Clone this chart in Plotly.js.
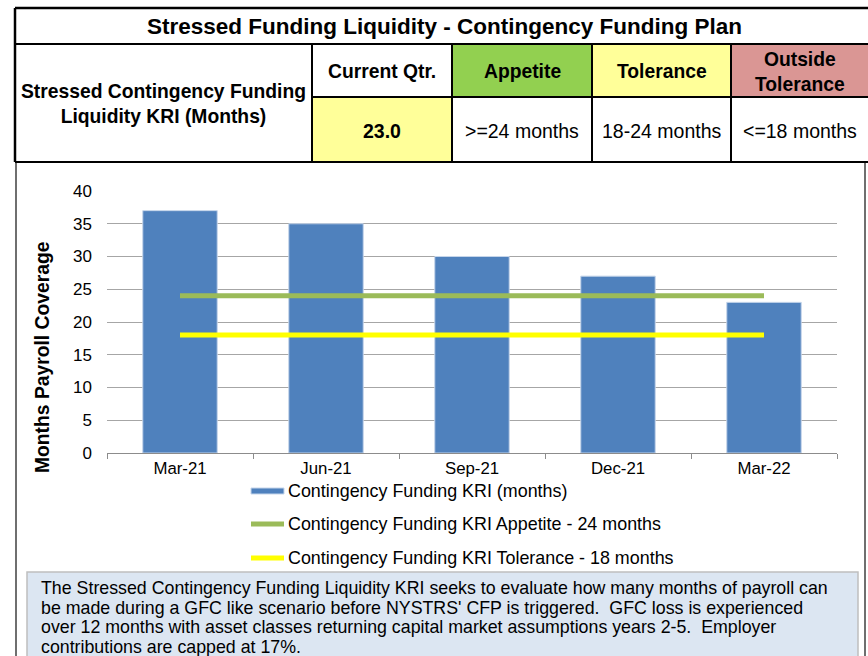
<!DOCTYPE html>
<html>
<head>
<meta charset="utf-8">
<script src="https://cdn.plot.ly/plotly-3.0.1.min.js"></script>
<style>
  body { margin: 0; background: white; }
  #graph { width: 868px; height: 656px; }
</style>
</head>
<body>
<div id="graph"></div>
<script>
// Data
const quarters = ['Mar-21', 'Jun-21', 'Sep-21', 'Dec-21', 'Mar-22'];
const kriMonths = [37, 35, 30, 27, 23];
const appetiteLevel = [24, 24, 24, 24, 24];
const toleranceLevel = [18, 18, 18, 18, 18];
const seriesNames = [
    'Contingency Funding KRI (months)',
    'Contingency Funding KRI Appetite - 24 months',
    'Contingency Funding KRI Tolerance - 18 months'
];
const tableTitle = 'Stressed Funding Liquidity - Contingency Funding Plan';
const kriLabel = 'Stressed Contingency Funding<br>Liquidity KRI (Months)';
const bandHeaders = ['Current Qtr.', 'Appetite', 'Tolerance', 'Outside<br>Tolerance'];
const bandValues = ['23.0', '>=24 months', '18-24 months', '<=18 months'];
const noteLines = [
    "The Stressed Contingency Funding Liquidity KRI seeks to evaluate how many months of payroll can",
    "be made during a GFC like scenario before NYSTRS' CFP is triggered.  GFC loss is experienced",
    "over 12 months with asset classes returning capital market assumptions years 2-5.  Employer",
    "contributions are capped at 17%."
];

const W = 868, H = 656;
const px = x => x / W;
const py = y => 1 - y / H;
const FONT = 'Liberation Sans, Arial, sans-serif';

const barColor = '#4f81bd';
const appetiteColor = '#9bbb59';
const toleranceColor = '#ffff00';

// Traces
const bar_trace = {
    type: 'bar',
    x: quarters,
    y: kriMonths,
    name: seriesNames[0],
    width: 0.51,
    marker: { color: barColor, line: { color: '#c5d5ea', width: 1 } },
    hoverinfo: 'x+y',
};

const appetite_trace = {
    type: 'scatter',
    mode: 'lines',
    x: quarters,
    y: appetiteLevel,
    name: seriesNames[1],
    line: { color: appetiteColor, width: 5 },
};

const tolerance_trace = {
    type: 'scatter',
    mode: 'lines',
    x: quarters,
    y: toleranceLevel,
    name: seriesNames[2],
    line: { color: toleranceColor, width: 5 },
};

// Table cells (x edges in px)
const colEdges = [312, 452, 592, 731, 870];
const headFills = ['white', '#92d050', '#ffff99', '#da9694'];
const valueFills = ['#ffff99', 'white', 'white', 'white'];

const shapes = [];
const annotations = [];

function rectPx(x0, y0, x1, y1, fill, lineColor, lineWidth) {
    shapes.push({
        type: 'rect', xref: 'paper', yref: 'paper',
        x0: px(x0), x1: px(x1), y0: py(y1), y1: py(y0),
        fillcolor: fill,
        line: { color: lineColor, width: lineWidth },
        layer: 'below',
    });
}
function linePx(x0, y0, x1, y1, color, width, layer) {
    shapes.push({
        type: 'line', xref: 'paper', yref: 'paper',
        x0: px(x0), x1: px(x1), y0: py(y0), y1: py(y1),
        line: { color: color, width: width },
        layer: layer || 'above',
    });
}
function textPx(x, y, text, size, bold, anchor) {
    annotations.push({
        xref: 'paper', yref: 'paper',
        x: px(x), y: py(y),
        text: bold ? '<b>' + text + '</b>' : text,
        showarrow: false,
        xanchor: anchor || 'center', yanchor: 'middle',
        align: anchor === 'left' ? 'left' : 'center',
        font: { family: FONT, size: size, color: '#000' },
    });
}

// chart box and note box
rectPx(16, 162, 865, 662, 'white', '#404040', 1.5);
rectPx(27, 572, 858, 662, '#dce6f2', '#bfbfbf', 1.5);

// table fills
for (let i = 0; i < 4; i++) {
    rectPx(colEdges[i], 44, colEdges[i + 1], 97, headFills[i], 'rgba(0,0,0,0)', 0);
    rectPx(colEdges[i], 97, colEdges[i + 1], 162, valueFills[i], 'rgba(0,0,0,0)', 0);
}

// table grid lines
linePx(15, 8, 870, 8, '#000', 2.5);
linePx(15, 44, 870, 44, '#000', 2);
linePx(312, 97, 870, 97, '#000', 2);
linePx(15, 162, 870, 162, '#000', 2);
linePx(15, 8, 15, 162, '#000', 2.5);
colEdges.slice(0, 4).forEach(x => linePx(x, 44, x, 162, '#000', 2));

// table text
textPx(444, 26, tableTitle, 22.5, true);
textPx(163, 104, kriLabel, 19.3, true);
for (let i = 0; i < 4; i++) {
    const cx = (colEdges[i] + Math.min(colEdges[i + 1], 868)) / 2;
    textPx(cx, 72, bandHeaders[i], 19.3, true);
    textPx(cx, 131, bandValues[i], 19.5, i === 0);
}

// y axis title
annotations.push({
    xref: 'paper', yref: 'paper', x: px(42), y: py(357),
    text: '<b>Months Payroll Coverage</b>', textangle: -90, showarrow: false,
    xanchor: 'center', yanchor: 'middle',
    font: { family: FONT, size: 19.3, color: '#000' },
});

// legend (manual, stacked)
const legendY = [491, 524, 558];
shapes.push({
    type: 'rect', xref: 'paper', yref: 'paper',
    x0: px(251), x1: px(284), y0: py(494), y1: py(488),
    fillcolor: barColor, line: { color: '#c5d5ea', width: 1 },
});
linePx(251, legendY[1], 284, legendY[1], appetiteColor, 5);
linePx(251, legendY[2], 284, legendY[2], toleranceColor, 5);
seriesNames.forEach((n, i) => textPx(286, legendY[i], n, 17.9, false, 'left'));

// note text, one line each for tight spacing
const noteY = [588, 607.5, 627, 646.5];
noteLines.forEach((t, i) => textPx(39, noteY[i], t, 17.8, false, 'left'));

const layout = {
    width: W,
    height: H,
    margin: { l: 0, r: 0, t: 0, b: 0 },
    paper_bgcolor: 'white',
    plot_bgcolor: 'rgba(0,0,0,0)',
    showlegend: false,
    bargap: 0.49,
    xaxis: {
        domain: [px(107), px(837)],
        type: 'category',
        range: [-0.5, 4.5],
        showline: true,
        linecolor: '#8c8c8c',
        linewidth: 1,
        ticks: 'outside',
        tickson: 'boundaries',
        ticklen: 5,
        tickcolor: '#8c8c8c',
        showgrid: false,
        tickfont: { family: FONT, size: 16.8, color: '#000' },
        fixedrange: true,
    },
    yaxis: {
        domain: [py(453), py(191)],
        range: [0, 40],
        dtick: 5,
        showline: false,
        showgrid: true,
        gridcolor: '#a6a6a6',
        gridwidth: 1,
        zeroline: false,
        ticks: '',
        ticklabelstandoff: 14,
        tickfont: { family: FONT, size: 17, color: '#000' },
        fixedrange: true,
    },
    shapes: shapes,
    annotations: annotations,
};

Plotly.newPlot('graph', [bar_trace, appetite_trace, tolerance_trace], layout, { displayModeBar: false, staticPlot: true });
</script>
</body>
</html>
